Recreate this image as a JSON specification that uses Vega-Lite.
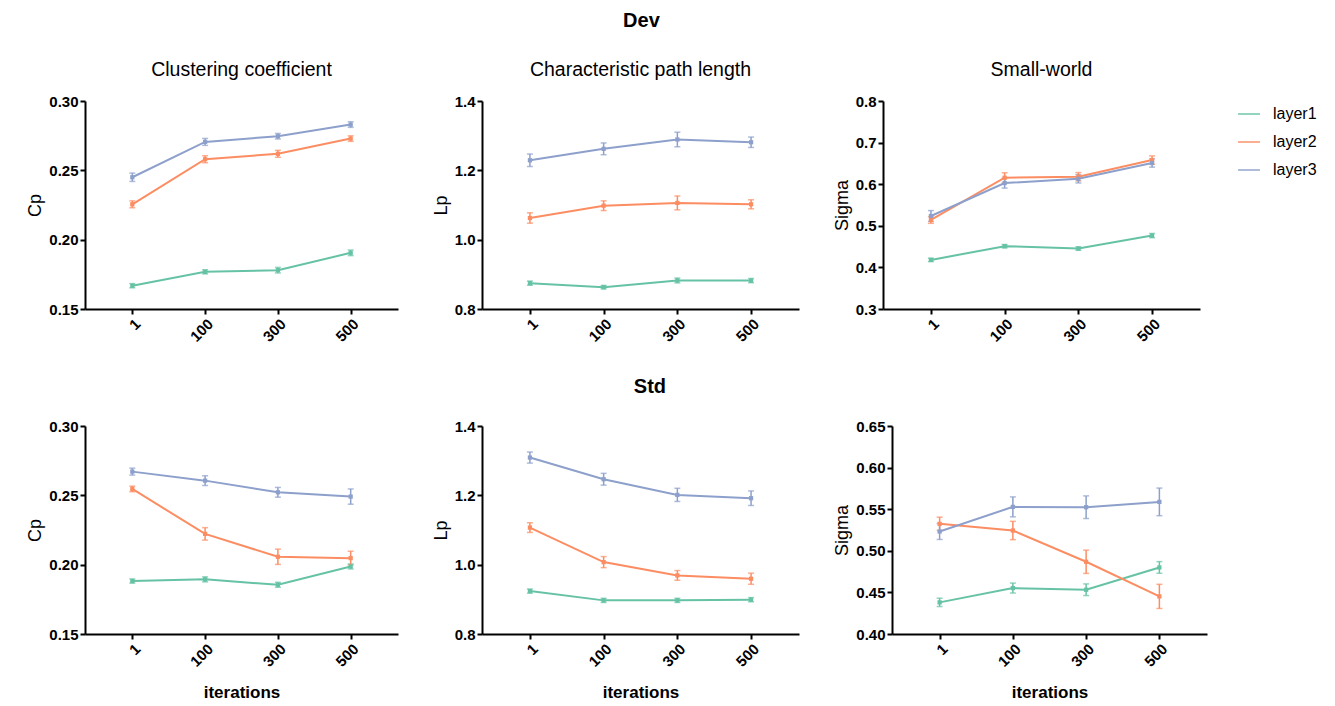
{
  "$schema": "https://vega.github.io/schema/vega-lite/v6.json",
  "padding": {"left": 26, "top": 10, "right": 5, "bottom": 5},
  "background": "white",
  "data": {"values": [
    {"g":"Dev","m":"Cp","layer":"layer1","it":"1","v":0.1668,"e":0.0015},
    {"g":"Dev","m":"Cp","layer":"layer1","it":"100","v":0.1768,"e":0.0015},
    {"g":"Dev","m":"Cp","layer":"layer1","it":"300","v":0.178,"e":0.002},
    {"g":"Dev","m":"Cp","layer":"layer1","it":"500","v":0.1905,"e":0.002},
    {"g":"Dev","m":"Cp","layer":"layer2","it":"1","v":0.2255,"e":0.0025},
    {"g":"Dev","m":"Cp","layer":"layer2","it":"100","v":0.258,"e":0.0025},
    {"g":"Dev","m":"Cp","layer":"layer2","it":"300","v":0.2619,"e":0.0025},
    {"g":"Dev","m":"Cp","layer":"layer2","it":"500","v":0.2729,"e":0.002},
    {"g":"Dev","m":"Cp","layer":"layer3","it":"1","v":0.245,"e":0.003},
    {"g":"Dev","m":"Cp","layer":"layer3","it":"100","v":0.2705,"e":0.0025},
    {"g":"Dev","m":"Cp","layer":"layer3","it":"300","v":0.2746,"e":0.002},
    {"g":"Dev","m":"Cp","layer":"layer3","it":"500","v":0.283,"e":0.002},
    {"g":"Dev","m":"Lp","layer":"layer1","it":"1","v":0.8746,"e":0.006},
    {"g":"Dev","m":"Lp","layer":"layer1","it":"100","v":0.863,"e":0.005},
    {"g":"Dev","m":"Lp","layer":"layer1","it":"300","v":0.8823,"e":0.007},
    {"g":"Dev","m":"Lp","layer":"layer1","it":"500","v":0.882,"e":0.006},
    {"g":"Dev","m":"Lp","layer":"layer2","it":"1","v":1.0625,"e":0.015},
    {"g":"Dev","m":"Lp","layer":"layer2","it":"100","v":1.098,"e":0.014},
    {"g":"Dev","m":"Lp","layer":"layer2","it":"300","v":1.106,"e":0.02},
    {"g":"Dev","m":"Lp","layer":"layer2","it":"500","v":1.102,"e":0.013},
    {"g":"Dev","m":"Lp","layer":"layer3","it":"1","v":1.229,"e":0.018},
    {"g":"Dev","m":"Lp","layer":"layer3","it":"100","v":1.262,"e":0.017},
    {"g":"Dev","m":"Lp","layer":"layer3","it":"300","v":1.289,"e":0.021},
    {"g":"Dev","m":"Lp","layer":"layer3","it":"500","v":1.281,"e":0.015},
    {"g":"Dev","m":"Sigma","layer":"layer1","it":"1","v":0.418,"e":0.004},
    {"g":"Dev","m":"Sigma","layer":"layer1","it":"100","v":0.451,"e":0.004},
    {"g":"Dev","m":"Sigma","layer":"layer1","it":"300","v":0.4454,"e":0.004},
    {"g":"Dev","m":"Sigma","layer":"layer1","it":"500","v":0.4765,"e":0.005},
    {"g":"Dev","m":"Sigma","layer":"layer2","it":"1","v":0.514,"e":0.008},
    {"g":"Dev","m":"Sigma","layer":"layer2","it":"100","v":0.6155,"e":0.012},
    {"g":"Dev","m":"Sigma","layer":"layer2","it":"300","v":0.618,"e":0.01},
    {"g":"Dev","m":"Sigma","layer":"layer2","it":"500","v":0.658,"e":0.01},
    {"g":"Dev","m":"Sigma","layer":"layer3","it":"1","v":0.5236,"e":0.013},
    {"g":"Dev","m":"Sigma","layer":"layer3","it":"100","v":0.6027,"e":0.012},
    {"g":"Dev","m":"Sigma","layer":"layer3","it":"300","v":0.613,"e":0.01},
    {"g":"Dev","m":"Sigma","layer":"layer3","it":"500","v":0.651,"e":0.01},
    {"g":"Std","m":"Cp","layer":"layer1","it":"1","v":0.1882,"e":0.0015},
    {"g":"Std","m":"Cp","layer":"layer1","it":"100","v":0.1894,"e":0.0018},
    {"g":"Std","m":"Cp","layer":"layer1","it":"300","v":0.1855,"e":0.0018},
    {"g":"Std","m":"Cp","layer":"layer1","it":"500","v":0.1987,"e":0.0018},
    {"g":"Std","m":"Cp","layer":"layer2","it":"1","v":0.2546,"e":0.002},
    {"g":"Std","m":"Cp","layer":"layer2","it":"100","v":0.2222,"e":0.0045},
    {"g":"Std","m":"Cp","layer":"layer2","it":"300","v":0.2057,"e":0.0055},
    {"g":"Std","m":"Cp","layer":"layer2","it":"500","v":0.2047,"e":0.005},
    {"g":"Std","m":"Cp","layer":"layer3","it":"1","v":0.2671,"e":0.0025},
    {"g":"Std","m":"Cp","layer":"layer3","it":"100","v":0.2606,"e":0.0035},
    {"g":"Std","m":"Cp","layer":"layer3","it":"300","v":0.2522,"e":0.0035},
    {"g":"Std","m":"Cp","layer":"layer3","it":"500","v":0.2491,"e":0.0055},
    {"g":"Std","m":"Lp","layer":"layer1","it":"1","v":0.9238,"e":0.006},
    {"g":"Std","m":"Lp","layer":"layer1","it":"100","v":0.897,"e":0.006},
    {"g":"Std","m":"Lp","layer":"layer1","it":"300","v":0.897,"e":0.006},
    {"g":"Std","m":"Lp","layer":"layer1","it":"500","v":0.899,"e":0.006},
    {"g":"Std","m":"Lp","layer":"layer2","it":"1","v":1.107,"e":0.014},
    {"g":"Std","m":"Lp","layer":"layer2","it":"100","v":1.0074,"e":0.016},
    {"g":"Std","m":"Lp","layer":"layer2","it":"300","v":0.969,"e":0.014},
    {"g":"Std","m":"Lp","layer":"layer2","it":"500","v":0.9594,"e":0.016},
    {"g":"Std","m":"Lp","layer":"layer3","it":"1","v":1.309,"e":0.016},
    {"g":"Std","m":"Lp","layer":"layer3","it":"100","v":1.2464,"e":0.017},
    {"g":"Std","m":"Lp","layer":"layer3","it":"300","v":1.2013,"e":0.019},
    {"g":"Std","m":"Lp","layer":"layer3","it":"500","v":1.1917,"e":0.021},
    {"g":"Std","m":"Sigma","layer":"layer1","it":"1","v":0.438,"e":0.005},
    {"g":"Std","m":"Sigma","layer":"layer1","it":"100","v":0.4552,"e":0.006},
    {"g":"Std","m":"Sigma","layer":"layer1","it":"300","v":0.4532,"e":0.007},
    {"g":"Std","m":"Sigma","layer":"layer1","it":"500","v":0.48,"e":0.007},
    {"g":"Std","m":"Sigma","layer":"layer2","it":"1","v":0.5324,"e":0.008},
    {"g":"Std","m":"Sigma","layer":"layer2","it":"100","v":0.5244,"e":0.011},
    {"g":"Std","m":"Sigma","layer":"layer2","it":"300","v":0.4868,"e":0.014},
    {"g":"Std","m":"Sigma","layer":"layer2","it":"500","v":0.4452,"e":0.0145},
    {"g":"Std","m":"Sigma","layer":"layer3","it":"1","v":0.5232,"e":0.0096},
    {"g":"Std","m":"Sigma","layer":"layer3","it":"100","v":0.5528,"e":0.012},
    {"g":"Std","m":"Sigma","layer":"layer3","it":"300","v":0.5524,"e":0.0136},
    {"g":"Std","m":"Sigma","layer":"layer3","it":"500","v":0.5588,"e":0.0166}
  ]},
  "vconcat": [
    {
      "title": {"text": "Dev", "fontSize": 20, "fontWeight": "bold", "anchor": "middle", "offset": 29, "dx": 28},
      "spacing": 34,
      "hconcat": [
        {
          "title": "Clustering coefficient",
          "width": 313, "height": 208,
          "transform": [{"filter": "datum.g === 'Dev' && datum.m === 'Cp'"}],
          "encoding": {
            "x": {"field": "it", "type": "ordinal", "sort": ["1","100","300","500"], "scale": {"type": "point", "padding": 0.65}, "axis": {"title": null}},
            "y": {"field": "v", "type": "quantitative", "scale": {"domain": [0.15, 0.3], "zero": false}, "axis": {"values": [0.15, 0.2, 0.25, 0.3], "format": ".2f", "title": "Cp"}},
            "color": {"field": "layer", "type": "nominal", "scale": {"domain": ["layer1","layer2","layer3"], "range": ["#66c2a5","#fc8d62","#8da0cb"]}, "legend": {"title": null}}
          },
          "layer": [
            {"mark": {"type": "errorbar", "ticks": {"size": 6}, "thickness": 1.5}, "encoding": {"yError": {"field": "e"}}},
            {"mark": {"type": "line", "strokeWidth": 2}},
            {"mark": {"type": "point", "filled": true, "size": 18, "opacity": 1, "shape": "square"}}
          ]
        },
        {
          "title": "Characteristic path length",
          "width": 317, "height": 208,
          "transform": [{"filter": "datum.g === 'Dev' && datum.m === 'Lp'"}],
          "encoding": {
            "x": {"field": "it", "type": "ordinal", "sort": ["1","100","300","500"], "scale": {"type": "point", "padding": 0.65}, "axis": {"title": null}},
            "y": {"field": "v", "type": "quantitative", "scale": {"domain": [0.8, 1.4], "zero": false}, "axis": {"values": [0.8, 1.0, 1.2, 1.4], "format": ".1f", "title": "Lp"}},
            "color": {"field": "layer", "type": "nominal", "scale": {"domain": ["layer1","layer2","layer3"], "range": ["#66c2a5","#fc8d62","#8da0cb"]}, "legend": {"title": null}}
          },
          "layer": [
            {"mark": {"type": "errorbar", "ticks": {"size": 6}, "thickness": 1.5}, "encoding": {"yError": {"field": "e"}}},
            {"mark": {"type": "line", "strokeWidth": 2}},
            {"mark": {"type": "point", "filled": true, "size": 18, "opacity": 1, "shape": "square"}}
          ]
        },
        {
          "title": "Small-world",
          "width": 317, "height": 208,
          "transform": [{"filter": "datum.g === 'Dev' && datum.m === 'Sigma'"}],
          "encoding": {
            "x": {"field": "it", "type": "ordinal", "sort": ["1","100","300","500"], "scale": {"type": "point", "padding": 0.65}, "axis": {"title": null}},
            "y": {"field": "v", "type": "quantitative", "scale": {"domain": [0.3, 0.8], "zero": false}, "axis": {"values": [0.3, 0.4, 0.5, 0.6, 0.7, 0.8], "format": ".1f", "title": "Sigma"}},
            "color": {"field": "layer", "type": "nominal", "scale": {"domain": ["layer1","layer2","layer3"], "range": ["#66c2a5","#fc8d62","#8da0cb"]}, "legend": {"title": null}}
          },
          "layer": [
            {"mark": {"type": "errorbar", "ticks": {"size": 6}, "thickness": 1.5}, "encoding": {"yError": {"field": "e"}}},
            {"mark": {"type": "line", "strokeWidth": 2}},
            {"mark": {"type": "point", "filled": true, "size": 18, "opacity": 1, "shape": "square"}}
          ]
        }
      ]
    },
    {
      "title": {"text": "Std", "fontSize": 20, "fontWeight": "bold", "anchor": "middle", "offset": 22, "dx": 33},
      "spacing": 34,
      "hconcat": [
        {
          "width": 313, "height": 208,
          "transform": [{"filter": "datum.g === 'Std' && datum.m === 'Cp'"}],
          "encoding": {
            "x": {"field": "it", "type": "ordinal", "sort": ["1","100","300","500"], "scale": {"type": "point", "padding": 0.65}, "axis": {"title": "iterations"}},
            "y": {"field": "v", "type": "quantitative", "scale": {"domain": [0.15, 0.3], "zero": false}, "axis": {"values": [0.15, 0.2, 0.25, 0.3], "format": ".2f", "title": "Cp"}},
            "color": {"field": "layer", "type": "nominal", "scale": {"domain": ["layer1","layer2","layer3"], "range": ["#66c2a5","#fc8d62","#8da0cb"]}, "legend": {"title": null}}
          },
          "layer": [
            {"mark": {"type": "errorbar", "ticks": {"size": 6}, "thickness": 1.5}, "encoding": {"yError": {"field": "e"}}},
            {"mark": {"type": "line", "strokeWidth": 2}},
            {"mark": {"type": "point", "filled": true, "size": 18, "opacity": 1, "shape": "square"}}
          ]
        },
        {
          "width": 317, "height": 208,
          "transform": [{"filter": "datum.g === 'Std' && datum.m === 'Lp'"}],
          "encoding": {
            "x": {"field": "it", "type": "ordinal", "sort": ["1","100","300","500"], "scale": {"type": "point", "padding": 0.65}, "axis": {"title": "iterations"}},
            "y": {"field": "v", "type": "quantitative", "scale": {"domain": [0.8, 1.4], "zero": false}, "axis": {"values": [0.8, 1.0, 1.2, 1.4], "format": ".1f", "title": "Lp"}},
            "color": {"field": "layer", "type": "nominal", "scale": {"domain": ["layer1","layer2","layer3"], "range": ["#66c2a5","#fc8d62","#8da0cb"]}, "legend": {"title": null}}
          },
          "layer": [
            {"mark": {"type": "errorbar", "ticks": {"size": 6}, "thickness": 1.5}, "encoding": {"yError": {"field": "e"}}},
            {"mark": {"type": "line", "strokeWidth": 2}},
            {"mark": {"type": "point", "filled": true, "size": 18, "opacity": 1, "shape": "square"}}
          ]
        },
        {
          "width": 315, "height": 208,
          "transform": [{"filter": "datum.g === 'Std' && datum.m === 'Sigma'"}],
          "encoding": {
            "x": {"field": "it", "type": "ordinal", "sort": ["1","100","300","500"], "scale": {"type": "point", "padding": 0.65}, "axis": {"title": "iterations"}},
            "y": {"field": "v", "type": "quantitative", "scale": {"domain": [0.4, 0.65], "zero": false}, "axis": {"values": [0.4, 0.45, 0.5, 0.55, 0.6, 0.65], "format": ".2f", "title": "Sigma"}},
            "color": {"field": "layer", "type": "nominal", "scale": {"domain": ["layer1","layer2","layer3"], "range": ["#66c2a5","#fc8d62","#8da0cb"]}, "legend": {"title": null}}
          },
          "layer": [
            {"mark": {"type": "errorbar", "ticks": {"size": 6}, "thickness": 1.5}, "encoding": {"yError": {"field": "e"}}},
            {"mark": {"type": "line", "strokeWidth": 2}},
            {"mark": {"type": "point", "filled": true, "size": 18, "opacity": 1, "shape": "square"}}
          ]
        }
      ]
    }
  ],
  "spacing": 32,
  "resolve": {"scale": {"color": "shared"}},
  "config": {
    "font": "Liberation Sans",
    "view": {"stroke": null},
    "axis": {
      "domainColor": "#000", "domainWidth": 2, "tickColor": "#000", "tickWidth": 2, "tickSize": 5,
      "labelColor": "#000", "labelFontSize": 15, "labelFontWeight": "bold", "labelFont": "Liberation Sans",
      "grid": false, "titleColor": "#000", "titleFontSize": 18, "titleFontWeight": "normal", "titleFont": "Liberation Sans"
    },
    "axisX": {"labelAngle": -45, "titleFontWeight": "bold", "titleFontSize": 17, "titlePadding": 15},
    "title": {"fontSize": 19.5, "fontWeight": "normal", "color": "#000", "font": "Liberation Sans", "offset": 14},
    "legend": {
      "orient": "none", "legendX": 1152, "legendY": 1,
      "labelFontSize": 16, "labelColor": "#000", "labelFont": "Liberation Sans", "labelOffset": 12,
      "symbolType": "stroke", "symbolStrokeWidth": 2, "symbolSize": 480, "rowPadding": 8
    }
  }
}
